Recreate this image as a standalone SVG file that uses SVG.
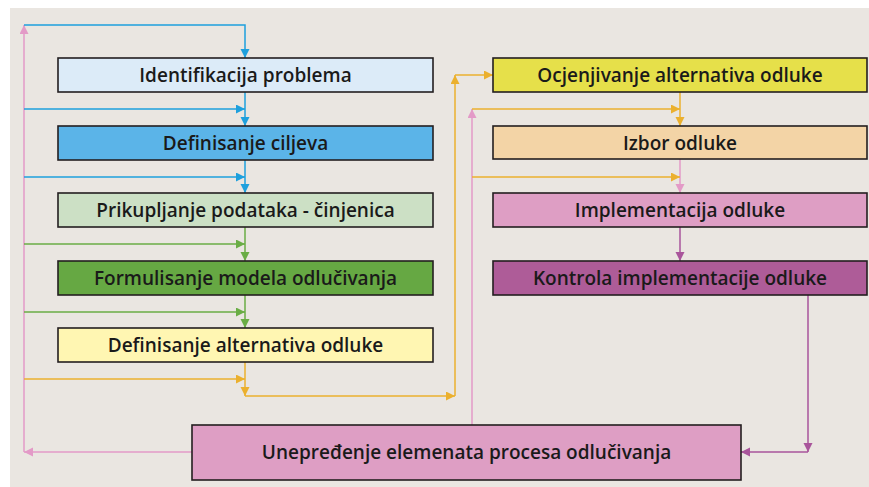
<svg xmlns="http://www.w3.org/2000/svg" width="869" height="487" viewBox="0 0 869 487">
<style>
.box{stroke:#231f20;stroke-width:1.6}
.lbl{font-family:"Open Sans","Liberation Sans",sans-serif;font-weight:600;font-size:19px;fill:#1a1a1a;text-anchor:middle}
.c{fill:none;stroke-width:1.5}
.blue{stroke:#1ea0dd}
.green{stroke:#6aad45}
.orange{stroke:#ebb02e}
.pink{stroke:#e39ac7}
.purple{stroke:#a9559b}
</style>
<defs>
<marker id="aB" markerUnits="userSpaceOnUse" markerWidth="10" markerHeight="10" refX="9" refY="4.5" orient="auto"><path d="M0,0 L9,4.5 L0,9 z" fill="#1ea0dd"/></marker>
<marker id="aG" markerUnits="userSpaceOnUse" markerWidth="10" markerHeight="10" refX="9" refY="4.5" orient="auto"><path d="M0,0 L9,4.5 L0,9 z" fill="#6aad45"/></marker>
<marker id="aO" markerUnits="userSpaceOnUse" markerWidth="10" markerHeight="10" refX="9" refY="4.5" orient="auto"><path d="M0,0 L9,4.5 L0,9 z" fill="#ebb02e"/></marker>
<marker id="aP" markerUnits="userSpaceOnUse" markerWidth="10" markerHeight="10" refX="9" refY="4.5" orient="auto"><path d="M0,0 L9,4.5 L0,9 z" fill="#e39ac7"/></marker>
<marker id="aU" markerUnits="userSpaceOnUse" markerWidth="10" markerHeight="10" refX="9" refY="4.5" orient="auto"><path d="M0,0 L9,4.5 L0,9 z" fill="#a9559b"/></marker>
</defs>
<rect x="0" y="0" width="869" height="487" fill="#ffffff"/>
<rect x="10" y="8" width="859" height="479" fill="#eae6e1"/>

<g id="connectors">
<path class="c pink" d="M192,452 H24" marker-end="url(#aP)"/>
<path class="c pink" d="M24,452 V25" marker-end="url(#aP)"/>
<path class="c pink" d="M472,425 V109" marker-end="url(#aP)"/>
<path class="c pink" d="M680,159 V193" marker-end="url(#aP)"/>

<path class="c blue" d="M24,25 H245 V58" marker-end="url(#aB)"/>
<path class="c blue" d="M245,92 V126" marker-end="url(#aB)"/>
<path class="c blue" d="M24,109 H245" marker-end="url(#aB)"/>
<path class="c blue" d="M245,160 V193" marker-end="url(#aB)"/>
<path class="c blue" d="M24,177 H245" marker-end="url(#aB)"/>

<path class="c green" d="M245,227 V261" marker-end="url(#aG)"/>
<path class="c green" d="M24,244 H245" marker-end="url(#aG)"/>
<path class="c green" d="M245,295 V328" marker-end="url(#aG)"/>
<path class="c green" d="M24,312 H245" marker-end="url(#aG)"/>

<path class="c orange" d="M24,379 H245" marker-end="url(#aO)"/>
<path class="c orange" d="M245,362 V396" marker-end="url(#aO)"/>
<path class="c orange" d="M245,396 H455" marker-end="url(#aO)"/>
<path class="c orange" d="M455,396 V75" marker-end="url(#aO)"/>
<path class="c orange" d="M455,75 H493" marker-end="url(#aO)"/>
<path class="c orange" d="M680,92 V126" marker-end="url(#aO)"/>
<path class="c orange" d="M472,109 H680" marker-end="url(#aO)"/>
<path class="c orange" d="M472,177 H680" marker-end="url(#aO)"/>

<path class="c purple" d="M680,227 V261" marker-end="url(#aU)"/>
<path class="c purple" d="M808,295 V452" marker-end="url(#aU)"/>
<path class="c purple" d="M808,452 H741" marker-end="url(#aU)"/>
</g>

<g id="identifikacija">
<rect class="box" x="58" y="58" width="375" height="34" fill="#dcebf8"/>
<text class="lbl" x="245.5" y="82">Identifikacija problema</text>
</g>
<g id="ciljevi">
<rect class="box" x="58" y="126" width="375" height="34" fill="#5bb4e8"/>
<text class="lbl" x="245.5" y="150">Definisanje ciljeva</text>
</g>
<g id="prikupljanje">
<rect class="box" x="58" y="193" width="375" height="34" fill="#cce0c5"/>
<text class="lbl" x="245.5" y="217">Prikupljanje podataka - činjenica</text>
</g>
<g id="formulisanje">
<rect class="box" x="58" y="261" width="375" height="34" fill="#66a843"/>
<text class="lbl" x="245.5" y="285">Formulisanje modela odlučivanja</text>
</g>
<g id="alternative">
<rect class="box" x="58" y="328" width="375" height="34" fill="#fff6b2"/>
<text class="lbl" x="245.5" y="352">Definisanje alternativa odluke</text>
</g>
<g id="ocjenjivanje">
<rect class="box" x="493" y="58" width="374" height="34" fill="#e6e04a"/>
<text class="lbl" x="680" y="82">Ocjenjivanje alternativa odluke</text>
</g>
<g id="izbor">
<rect class="box" x="493" y="126" width="374" height="33" fill="#f3d4a6"/>
<text class="lbl" x="680" y="149.5">Izbor odluke</text>
</g>
<g id="implementacija">
<rect class="box" x="493" y="193" width="374" height="34" fill="#de9ec4"/>
<text class="lbl" x="680" y="217">Implementacija odluke</text>
</g>
<g id="kontrola">
<rect class="box" x="493" y="261" width="374" height="34" fill="#ae5c98"/>
<text class="lbl" x="680" y="285">Kontrola implementacije odluke</text>
</g>
<g id="unapredjenje">
<rect class="box" x="192" y="425" width="549" height="55" fill="#de9ec4"/>
<text class="lbl" x="466.5" y="459">Unepređenje elemenata procesa odlučivanja</text>
</g>
</svg>
